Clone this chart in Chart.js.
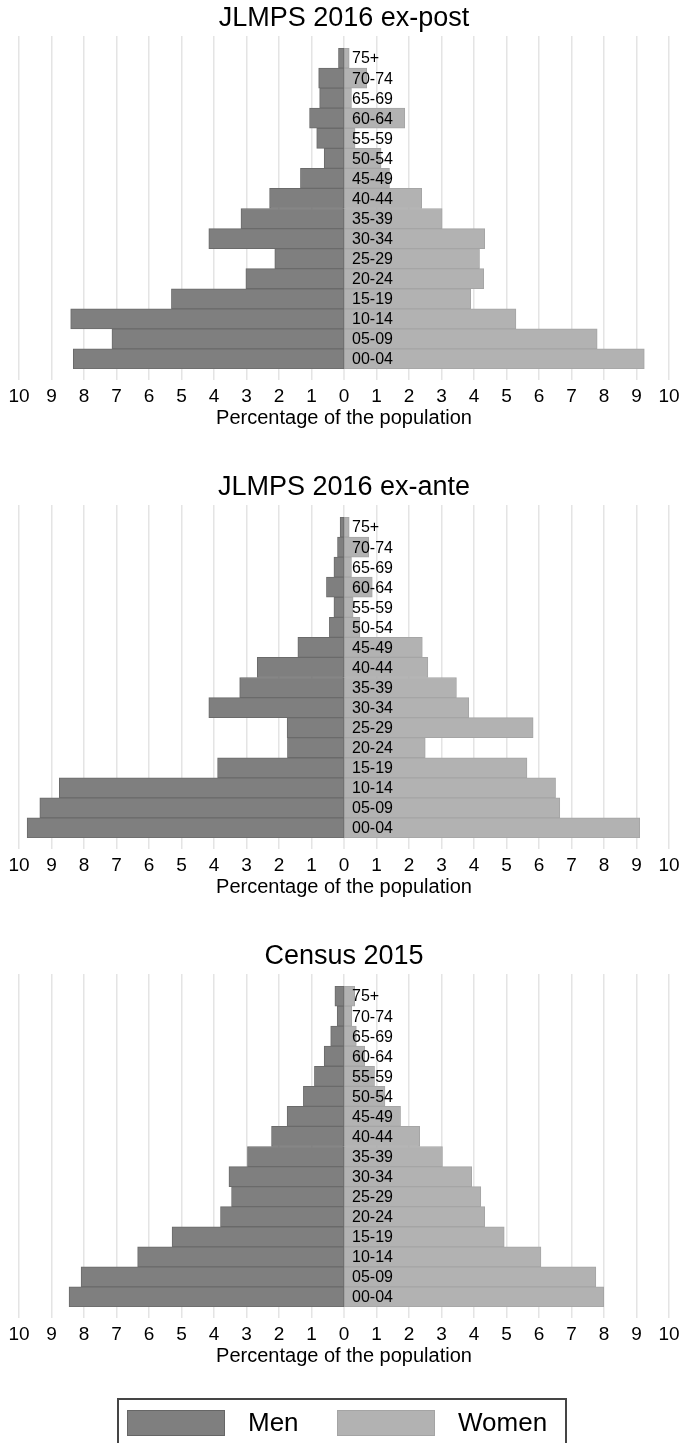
<!DOCTYPE html>
<html>
<head>
<meta charset="utf-8">
<script src="https://cdn.jsdelivr.net/npm/chart.js@4/dist/chart.umd.min.js"></script>
<style>
  body { margin: 0; background: #fff; width: 681px; height: 1443px; position: relative; overflow: hidden; font-family: Arial, "Liberation Sans", sans-serif; }
  canvas { position: absolute; left: 0; }
  #legend { position: absolute; left: 117px; top: 1398px; width: 446px; height: 60px; border: 2px solid #454545; }
  .sw { position: absolute; top: 10px; width: 96px; height: 24px; }
  .sw.men { left: 8px; background: #7f7f7f; border: 1px solid #666; }
  .sw.women { left: 218px; background: #b2b2b2; border: 1px solid #a4a4a4; }
  .lbl { position: absolute; top: 9px; font-size: 26px; line-height: 26px; color: #000; }
</style>
</head>
<body>
<canvas id="c1" width="681" height="469" style="top:0px"></canvas>
<canvas id="c2" width="681" height="469" style="top:469px"></canvas>
<canvas id="c3" width="681" height="469" style="top:938px"></canvas>
<div id="legend">
  <span class="sw men"></span><span class="lbl" style="left:129px">Men</span>
  <span class="sw women"></span><span class="lbl" style="left:339px">Women</span>
</div>
<script>
// age groups, top of the pyramid first
const ageGroups = ['75+', '70-74', '65-69', '60-64', '55-59', '50-54', '45-49', '40-44',
  '35-39', '30-34', '25-29', '20-24', '15-19', '10-14', '05-09', '00-04'];

// percentage of the population
const expostMen   = [0.17, 0.78, 0.75, 1.06, 0.84, 0.61, 1.34, 2.29, 3.17, 4.16, 2.13, 3.02, 5.31, 8.41, 7.14, 8.33];
const expostWomen = [0.16, 0.70, 0.23, 1.87, 0.34, 1.14, 1.40, 2.39, 3.02, 4.33, 4.17, 4.30, 3.90, 5.29, 7.79, 9.24];

const exanteMen   = [0.12, 0.20, 0.31, 0.54, 0.31, 0.45, 1.42, 2.67, 3.21, 4.16, 1.75, 1.74, 3.89, 8.76, 9.36, 9.75];
const exanteWomen = [0.16, 0.76, 0.23, 0.87, 0.28, 0.49, 2.41, 2.58, 3.46, 3.84, 5.82, 2.50, 5.63, 6.51, 6.64, 9.10];

const censusMen   = [0.28, 0.21, 0.41, 0.61, 0.91, 1.25, 1.75, 2.23, 2.97, 3.54, 3.46, 3.80, 5.29, 6.35, 8.09, 8.46];
const censusWomen = [0.33, 0.24, 0.38, 0.64, 0.94, 1.26, 1.74, 2.33, 3.03, 3.93, 4.21, 4.33, 4.93, 6.06, 7.75, 7.99];

const xMin = -10, xMax = 10;
const gridColor = '#e4e4e4';
const fontFamily = 'Arial, "Liberation Sans", sans-serif';

// age labels sit just right of the zero line
const centerLabels = {
  id: 'centerLabels',
  afterDatasetsDraw(chart) {
    const { ctx, scales: { x, y } } = chart;
    ctx.save();
    ctx.font = '16px ' + fontFamily;
    ctx.fillStyle = '#000';
    ctx.textAlign = 'left';
    ctx.textBaseline = 'middle';
    const x0 = x.getPixelForValue(0) + 8;
    chart.data.labels.forEach((lab, i) => {
      ctx.fillText(lab, x0, y.getPixelForValue(i) + 1);
    });
    ctx.restore();
  }
};

function pyramid(id, title, men, women) {
  return new Chart(document.getElementById(id), {
    type: 'bar',
    data: {
      labels: ageGroups,
      datasets: [
        {
          label: 'Men',
          data: men.map(v => -v),
          backgroundColor: '#7f7f7f',
          borderColor: '#6a6a6a',
          borderWidth: 1,
          borderSkipped: false,
        },
        {
          label: 'Women',
          data: women,
          backgroundColor: '#b2b2b2',
          borderColor: '#a5a5a5',
          borderWidth: 1,
          borderSkipped: false,
        },
      ],
    },
    options: {
      indexAxis: 'y',
      responsive: false,
      animation: false,
      barPercentage: 1,
      categoryPercentage: 1,
      // left 19 / right 12 puts zero on a whole pixel (344)
      layout: { padding: { left: 19, right: 12, top: 0, bottom: 39 } },
      plugins: {
        legend: { display: false },
        tooltip: { enabled: false },
        title: {
          display: true,
          text: title,
          color: '#000',
          font: { size: 27, weight: 'normal', family: fontFamily },
          padding: { top: 2, bottom: 1.6 },
        },
      },
      scales: {
        x: {
          stacked: true,
          min: xMin,
          max: xMax,
          ticks: {
            stepSize: 1,
            color: '#000',
            padding: 0,
            maxRotation: 0,
            font: { size: 19, family: fontFamily, lineHeight: 34 / 19 },
            callback: v => Math.abs(v),
          },
          grid: {
            color: gridColor,
            // no line at zero so the two bars meet without a gap
            lineWidth: c => (c.tick && c.tick.value === 0) ? 0 : 1.5,
            tickWidth: 1.5,
            tickColor: gridColor,
            tickLength: 11,
          },
          border: { display: false },
          title: {
            display: true,
            text: 'Percentage of the population',
            color: '#000',
            padding: { top: -8, bottom: 0 },
            font: { size: 20, family: fontFamily },
          },
        },
        // extends the grid lines above the top bar
        x2: {
          type: 'linear',
          position: 'top',
          min: xMin,
          max: xMax,
          ticks: { display: false, stepSize: 1 },
          grid: { color: gridColor, lineWidth: 1.5, drawOnChartArea: false, tickLength: 12 },
          border: { display: false },
        },
        y: {
          stacked: true,
          display: false,
        },
      },
    },
    plugins: [centerLabels],
  });
}

pyramid('c1', 'JLMPS 2016 ex-post', expostMen, expostWomen);
pyramid('c2', 'JLMPS 2016 ex-ante', exanteMen, exanteWomen);
pyramid('c3', 'Census 2015', censusMen, censusWomen);
</script>
</body>
</html>
